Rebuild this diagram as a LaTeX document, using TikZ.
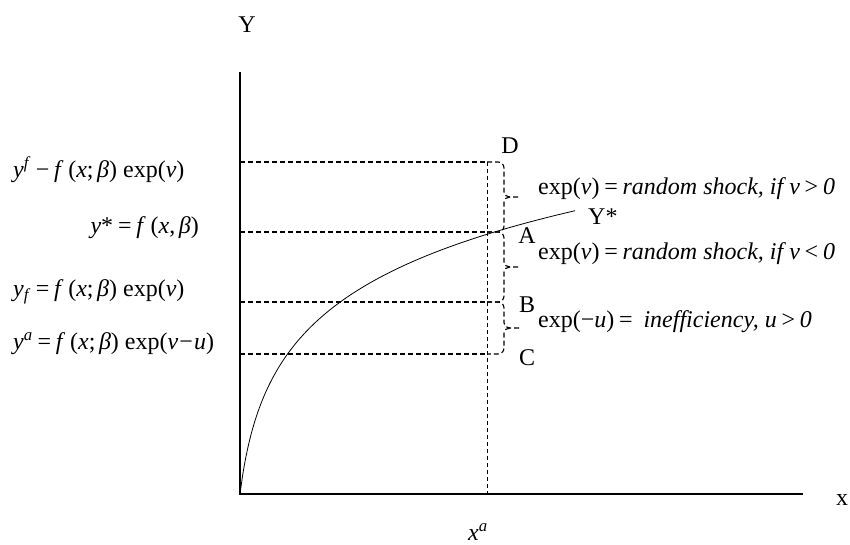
\documentclass[tikz,border=0pt]{standalone}
\usepackage{fontspec}
\setmainfont{Liberation Serif}
\newcommand{\eqs}[1]{\hspace{0.2em}#1\hspace{0.2em}}
\newcommand{\fxb}[1]{\textit{f}\hspace{0.2em}(\textit{x}#1\hspace{0.15em}\textit{β})}
\begin{document}
\begin{tikzpicture}[x=1pt,y=-1pt,
  axisline/.style={line width=1.3pt},
  dline/.style={line width=1.1pt, dash pattern=on 5pt off 3pt},
  vline/.style={line width=0.8pt, dash pattern=on 4pt off 3pt},
  lbl/.style={font=\fontsize{24}{28}\selectfont, inner sep=0pt},
  curve/.style={line width=0.8pt}]
\useasboundingbox (0,0) rectangle (850,545);
% axes
\coordinate (O) at (240,494);
\coordinate (Ytop) at (240,72);
\coordinate (Xend) at (803,494);
\draw[axisline] (Ytop) -- (O) -- (Xend);
\node[lbl] (ylab) at (247,25) {Y};
\node[lbl] (xlab) at (842,500) {x};
\node[lbl] (xa) at (478,532) {\textit{x}\textsuperscript{\textit{a}}};
% levels
\coordinate (D) at (487,162);
\coordinate (A) at (487,232);
\coordinate (B) at (487,302);
\coordinate (C) at (487,354);
\coordinate (Xa) at (487,494);
\foreach \p in {D,A,B,C} \draw[dline] (O|-\p) -- (\p);
\draw[vline] (D) -- (Xa);
% braces
\newcommand{\dbrace}[2]{%
 \pgfmathsetmacro\ym{(#1+#2)/2}%
 \draw[dline] (487,#1) -- (498,#1) to[out=0,in=90] (504,#1+6) -- (504,\ym-5) to[out=-90,in=180] (510,\ym) -- (521,\ym);
 \draw[dline] (510,\ym) to[out=180,in=90] (504,\ym+5) -- (504,#2-6) to[out=-90,in=0] (498,#2) -- (487,#2);}
\dbrace{162}{232}
\dbrace{232}{302}
\dbrace{302}{354}
% curve
\draw[curve] plot[domain=0:335,samples=120,smooth] ({240+\x},{494-80*ln(1+\x/10)}) coordinate (Yend);
\node[lbl, anchor=west] (ystar) at (588,217) {Y*};
% point labels
\node[lbl] (Dl) at (510,146) {D};
\node[lbl] (Al) at (527,236) {A};
\node[lbl] (Bl) at (527,305) {B};
\node[lbl] (Cl) at (527,358) {C};
% right texts
\node[lbl, anchor=west] (t1) at (538,189) {exp(\textit{v})\eqs{=}\textit{random shock, if v}\eqs{>}\textit{0}};
\node[lbl, anchor=west] (t2) at (538,254) {exp(\textit{v})\eqs{=}\textit{random shock, if v}\eqs{<}\textit{0}};
\node[lbl, anchor=west] (t3) at (538,322) {exp(−\textit{u})\eqs{=} \textit{inefficiency, u}\eqs{>}\textit{0}};
% left texts
\node[lbl, anchor=west] (l1) at (13,170) {\textit{y}\textsuperscript{\textit{f}}\eqs{−}\fxb{;}\hspace{0.25em}exp(\textit{v})};
\node[lbl, anchor=east] (l2) at (199,228) {\textit{y}*\eqs{=}\fxb{,}};
\node[lbl, anchor=west] (l3) at (13,292) {\textit{y}\textsubscript{\textit{f}}\eqs{=}\fxb{;}\hspace{0.25em}exp(\textit{v})};
\node[lbl, anchor=west] (l4) at (13,344) {\textit{y}\textsuperscript{\textit{a}}\eqs{=}\fxb{;}\hspace{0.25em}exp(\textit{v}\hspace{0.05em}−\hspace{0.05em}\textit{u})};
\end{tikzpicture}
\end{document}
